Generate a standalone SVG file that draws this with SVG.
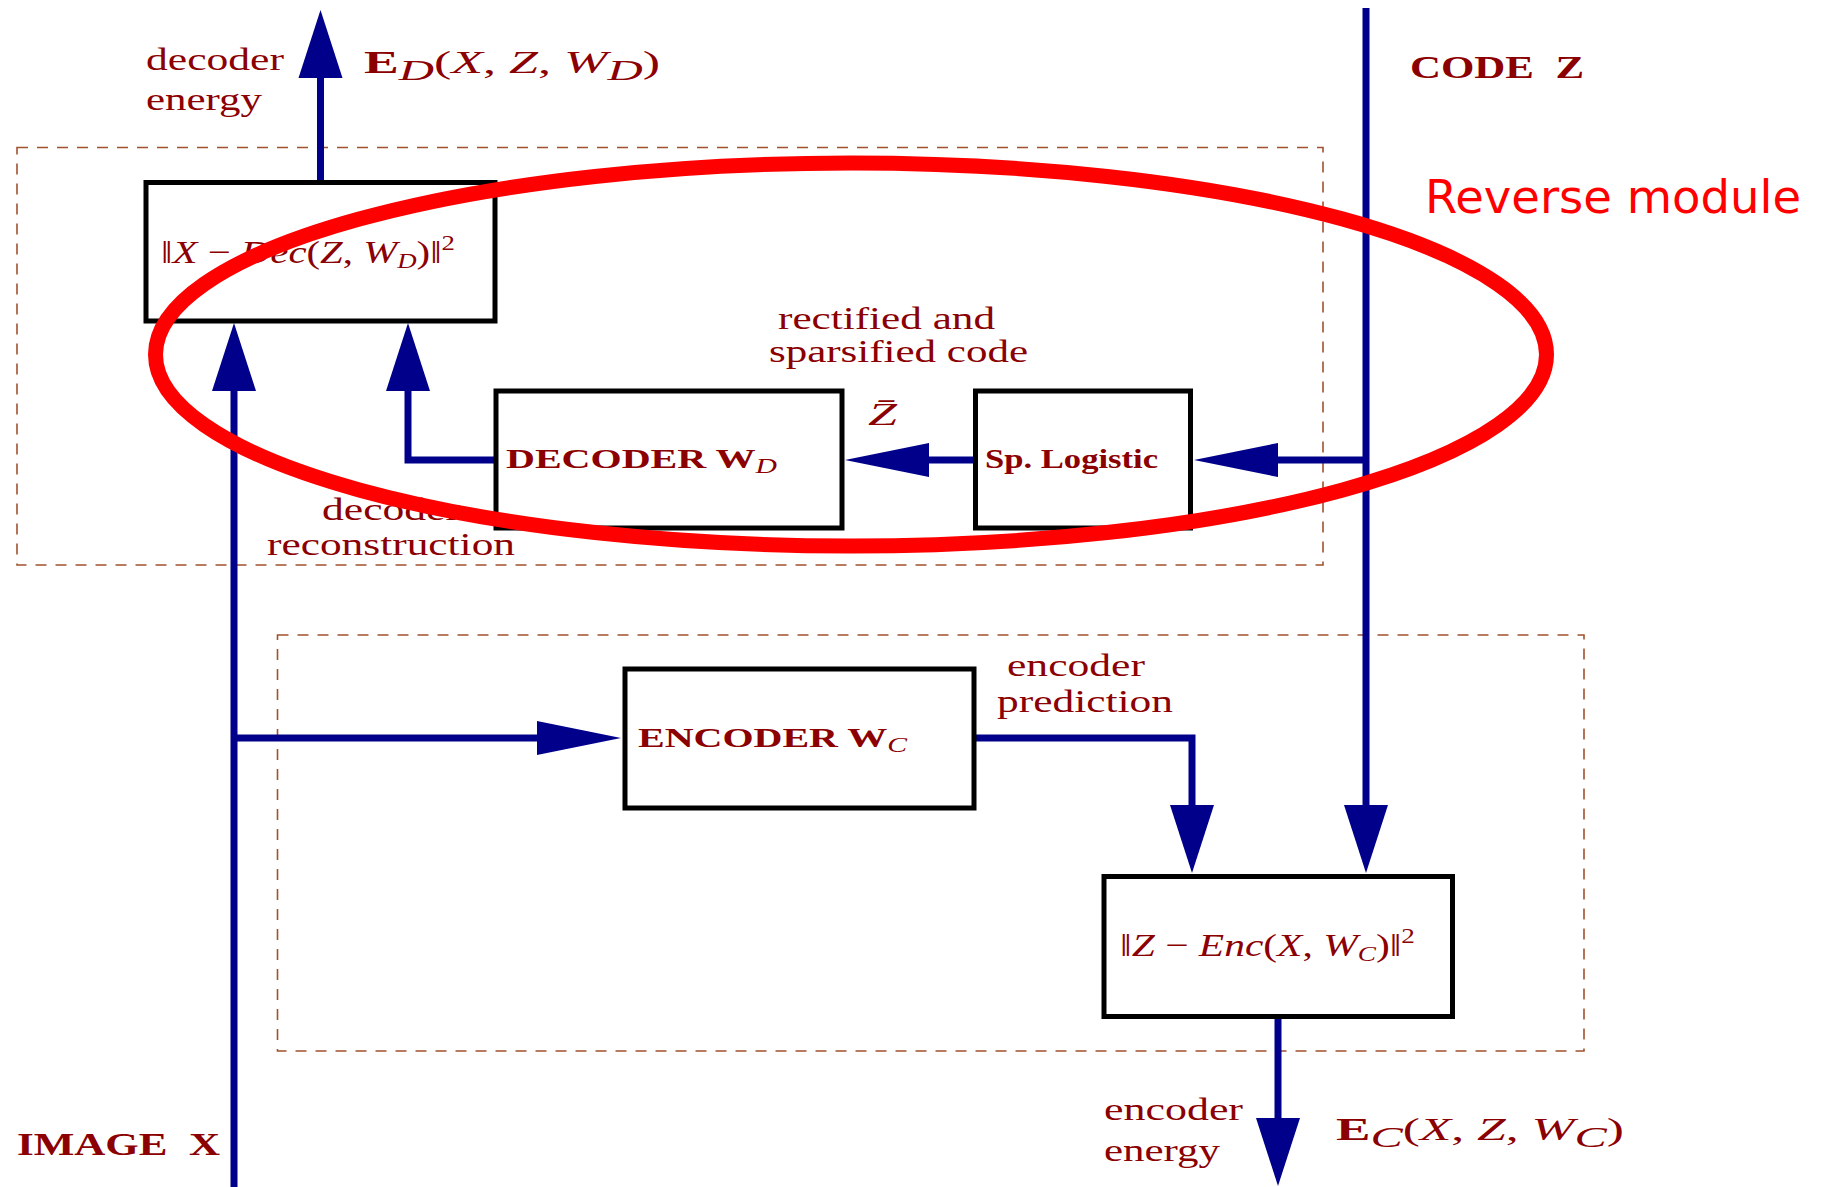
<svg xmlns="http://www.w3.org/2000/svg" width="1824" height="1187" viewBox="0 0 1824 1187">
  <style>
    .t { font-family: "Liberation Serif", "DejaVu Serif", serif; fill: #8b0000; font-size: 32px; }
    .b { font-weight: bold; font-size: 27px; }
    .i { font-style: italic; }
    .box { fill: #ffffff; stroke: #000000; stroke-width: 5; }
    .group { fill: none; stroke: #a0522d; stroke-width: 1.6; stroke-dasharray: 11 9; }
    .wire { fill: none; stroke: #00008b; stroke-width: 7; stroke-linecap: butt; stroke-linejoin: miter; }
    .up { marker-end: url(#headV); }
    .side { marker-end: url(#headH); }
  </style>
  <defs>
    <!-- arrowheads: vertical runs use a longer/wider head than horizontal runs -->
    <marker id="headV" markerUnits="userSpaceOnUse" markerWidth="68" markerHeight="44" refX="1" refY="22" orient="auto" overflow="visible">
      <path d="M0,0 L68,22 L0,44 z" fill="#00008b"/>
    </marker>
    <marker id="headH" markerUnits="userSpaceOnUse" markerWidth="84" markerHeight="34" refX="1" refY="17" orient="auto" overflow="visible">
      <path d="M0,0 L84,17 L0,34 z" fill="#00008b"/>
    </marker>
  </defs>

  <rect width="1824" height="1187" fill="#ffffff"/>

  <!-- module outlines -->
  <g id="modules">
    <rect class="group" x="17" y="147.5" width="1306" height="417.5"/>
    <rect class="group" x="277.5" y="635" width="1306.5" height="416"/>
  </g>

  <!-- connectors -->
  <g id="connectors">
    <path class="wire up" d="M320.5,182 V77"/>
    <path class="wire up" d="M234,1187 V390"/>
    <path class="wire side" d="M234,738 H538"/>
    <path class="wire up" d="M496,460 H408 V390"/>
    <path class="wire side" d="M975,460 H928"/>
    <path class="wire side" d="M1366,460 H1277"/>
    <path class="wire up" d="M1366,8 V806"/>
    <path class="wire up" d="M974,738 H1192 V806"/>
    <path class="wire up" d="M1278,1016 V1119"/>
  </g>

  <!-- nodes -->
  <g id="decoder-energy">
    <rect class="box" x="146" y="182.5" width="349" height="138.5"/>
    <text class="t i" x="161" y="263" font-size="32" textLength="294" lengthAdjust="spacingAndGlyphs"><tspan font-style="normal">‖</tspan>X <tspan font-style="normal">−</tspan> Dec<tspan font-style="normal">(</tspan>Z<tspan font-style="normal">, </tspan>W<tspan dy="5" font-size="21">D</tspan><tspan dy="-5" font-style="normal">)‖</tspan><tspan dy="-13" font-size="21" font-style="normal">2</tspan></text>
  </g>

  <g id="decoder">
    <rect class="box" x="496" y="391" width="346" height="137"/>
    <text class="t b" x="506" y="468" textLength="271" lengthAdjust="spacingAndGlyphs">DECODER W<tspan class="i" font-weight="normal" dy="5" font-size="20">D</tspan></text>
  </g>

  <g id="sp-logistic">
    <rect class="box" x="975.5" y="391" width="215" height="137"/>
    <text class="t b" x="985" y="468" textLength="173" lengthAdjust="spacingAndGlyphs">Sp. Logistic</text>
  </g>

  <g id="encoder">
    <rect class="box" x="625" y="669" width="349" height="139"/>
    <text class="t b" x="638" y="747" textLength="269" lengthAdjust="spacingAndGlyphs">ENCODER W<tspan class="i" font-weight="normal" dy="5" font-size="20">C</tspan></text>
  </g>

  <g id="encoder-energy">
    <rect class="box" x="1104" y="876.5" width="348.5" height="140"/>
    <text class="t i" x="1120" y="956" font-size="32" textLength="295" lengthAdjust="spacingAndGlyphs"><tspan font-style="normal">‖</tspan>Z <tspan font-style="normal">−</tspan> Enc<tspan font-style="normal">(</tspan>X<tspan font-style="normal">, </tspan>W<tspan dy="5" font-size="21">C</tspan><tspan dy="-5" font-style="normal">)‖</tspan><tspan dy="-13" font-size="21" font-style="normal">2</tspan></text>
  </g>

  <!-- signal labels -->
  <g id="labels">
    <text class="t" x="146" y="70" font-size="33" textLength="138" lengthAdjust="spacingAndGlyphs">decoder</text>
    <text class="t" x="146" y="110" font-size="33" textLength="116" lengthAdjust="spacingAndGlyphs">energy</text>
    <text class="t" x="364" y="73" font-size="45" textLength="296" lengthAdjust="spacingAndGlyphs"><tspan font-weight="bold">E</tspan><tspan class="i" dy="7" font-size="30">D</tspan><tspan dy="-7">(</tspan><tspan class="i">X</tspan>, <tspan class="i">Z</tspan>, <tspan class="i">W</tspan><tspan class="i" dy="7" font-size="30">D</tspan><tspan dy="-7">)</tspan></text>

    <text class="t" x="1410" y="78" font-size="34" font-weight="bold" xml:space="preserve" textLength="174" lengthAdjust="spacingAndGlyphs">CODE  Z</text>

    <text class="t" x="778" y="329" font-size="33" textLength="217" lengthAdjust="spacingAndGlyphs">rectified and</text>
    <text class="t" x="769" y="362" font-size="33" textLength="259" lengthAdjust="spacingAndGlyphs">sparsified code</text>
    <text class="t i" x="868" y="425" font-size="36" textLength="29" lengthAdjust="spacingAndGlyphs">Z̄</text>

    <text class="t" x="322" y="520" font-size="33" textLength="138" lengthAdjust="spacingAndGlyphs">decoder</text>
    <text class="t" x="267" y="555" font-size="33" textLength="248" lengthAdjust="spacingAndGlyphs">reconstruction</text>

    <text class="t" x="1007" y="676" font-size="33" textLength="138" lengthAdjust="spacingAndGlyphs">encoder</text>
    <text class="t" x="997" y="712" font-size="33" textLength="176" lengthAdjust="spacingAndGlyphs">prediction</text>

    <text class="t" x="1104" y="1120" font-size="33" textLength="139" lengthAdjust="spacingAndGlyphs">encoder</text>
    <text class="t" x="1104" y="1161" font-size="33" textLength="116" lengthAdjust="spacingAndGlyphs">energy</text>
    <text class="t" x="1336" y="1140" font-size="45" textLength="288" lengthAdjust="spacingAndGlyphs"><tspan font-weight="bold">E</tspan><tspan class="i" dy="7" font-size="30">C</tspan><tspan dy="-7">(</tspan><tspan class="i">X</tspan>, <tspan class="i">Z</tspan>, <tspan class="i">W</tspan><tspan class="i" dy="7" font-size="30">C</tspan><tspan dy="-7">)</tspan></text>

    <text class="t" x="17" y="1155" font-size="34" font-weight="bold" xml:space="preserve" textLength="203" lengthAdjust="spacingAndGlyphs">IMAGE  X</text>
  </g>

  <!-- highlight around the reverse path -->
  <g id="reverse-module">
    <ellipse cx="851" cy="354.5" rx="695.5" ry="191.5" fill="none" stroke="#ff0000" stroke-width="15"/>
    <text x="1425" y="213" font-family="DejaVu Sans, sans-serif" font-size="46" fill="#ff0000" textLength="376" lengthAdjust="spacingAndGlyphs">Reverse module</text>
  </g>
</svg>
